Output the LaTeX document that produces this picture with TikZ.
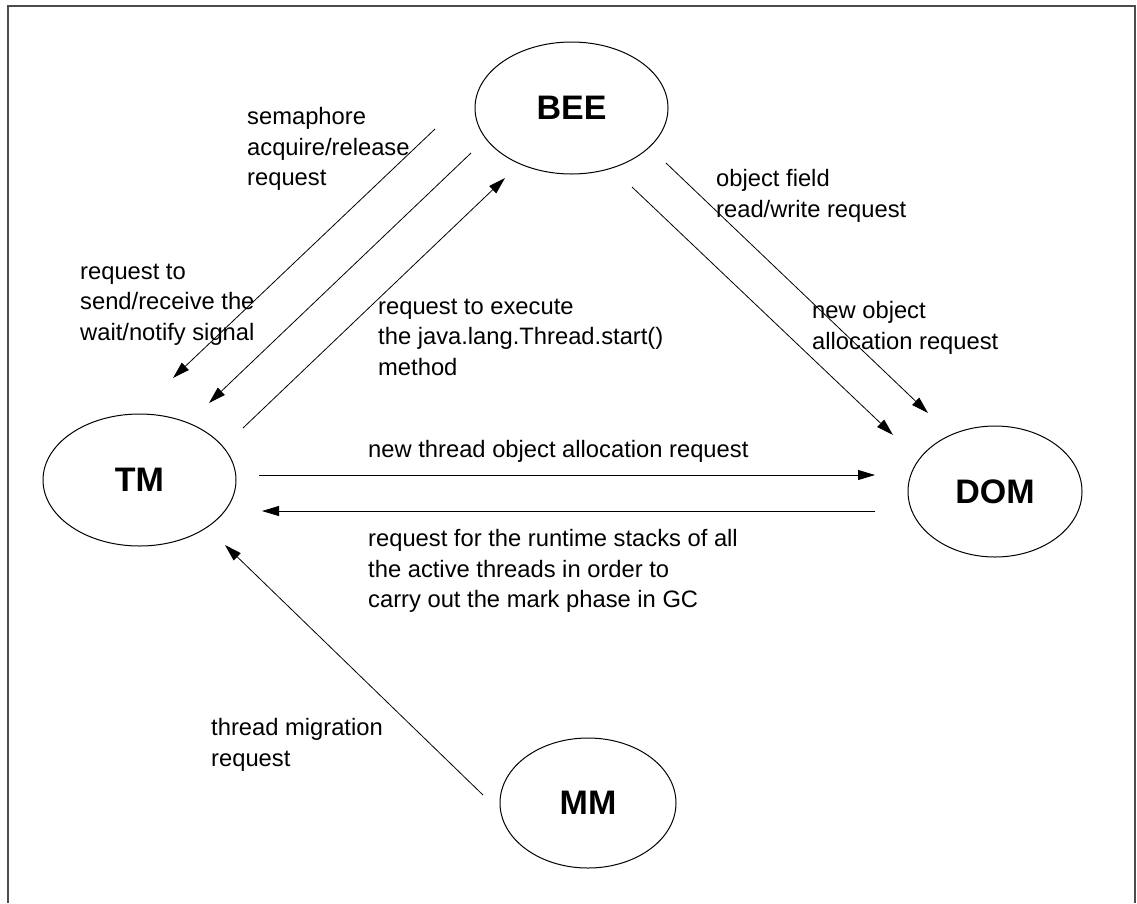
\documentclass[tikz,border=0pt]{standalone}
\usepackage{fontspec}
\setmainfont{Liberation Sans}
\usetikzlibrary{arrows.meta,shapes.geometric,calc}
\begin{document}
\begin{tikzpicture}[x=1pt,y=-1pt,
  ell/.style={draw, ellipse, line width=1pt, minimum width=193pt, minimum height=132pt,
    inner sep=0pt, font=\fontsize{34}{40}\selectfont\bfseries},
  lbl/.style={anchor=north west, align=left, inner sep=0pt, font=\fontsize{23.75}{30.5}\selectfont},
  arr/.style={line width=0.8pt, -{Triangle[length=17pt,width=10pt]}},
  framebox/.style={draw=black!70, line width=2pt}]
\useasboundingbox (0,0) rectangle (1137,903);

% outer frame, open at the bottom
\draw[framebox] (8,903) -- (8,6) -- (1135,6) -- (1135,903);

% modules
\node[ell] (BEE) at (571.5,108) {BEE};
\node[ell] (TM)  at (139.5,480) {TM};
\node[ell, minimum width=174pt, minimum height=131pt] (DOM) at (995,491.5) {DOM};
\node[ell, minimum width=176pt, minimum height=130pt] (MM)  at (588,803) {MM};

% requests between the modules
\draw[arr] ($(BEE)+(-136.5,21)$) -- ($(TM)+(33.5,-102)$);
\draw[arr] ($(BEE)+(-100.5,45)$) -- ($(TM)+(69.5,-77)$);
\draw[arr] ($(TM)+(103.5,-52)$) -- ($(BEE)+(-66.5,70)$);
\draw[arr] ($(BEE)+(94.5,55)$) -- ($(DOM)+(-67,-78.5)$);
\draw[arr] ($(BEE)+(60.5,79)$) -- ($(DOM)+(-102,-56.5)$);
\draw[arr] ($(TM)+(119.5,-5)$) -- ($(DOM)+(-120,-16.5)$);
\draw[arr] ($(DOM)+(-120,19.5)$) -- ($(TM)+(122.5,31)$);
\draw[arr] ($(MM)+(-105,-8)$) -- ($(TM)+(85.5,65)$);

% request labels
\node[lbl] (l1) at (247,107.5) {semaphore\\acquire/release\\request};
\node[lbl] (l2) at (80,263.5) {request to\\send/receive the\\wait/notify signal};
\node[lbl] (l3) at (378,298.5) {request to execute\\the java.lang.Thread.start()\\method};
\node[lbl] (l4) at (716,169.5) {object field\\read/write request};
\node[lbl] (l5) at (812,301.5) {new object\\allocation request};
\node[lbl] (l6) at (368,440.5) {new thread object allocation request};
\node[lbl] (l7) at (368,529.5) {request for the runtime stacks of all\\the active threads in order to\\carry out the mark phase in GC};
\node[lbl] (l8) at (211,718.5) {thread migration\\request};
\end{tikzpicture}
\end{document}
